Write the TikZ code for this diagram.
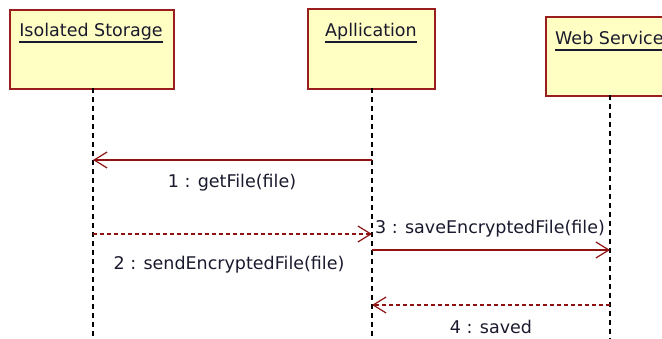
\documentclass[tikz,border=0pt]{standalone}
\usepackage{fontspec}
\setmainfont{DejaVu Sans}
\usetikzlibrary{arrows.meta}
\definecolor{boxfill}{HTML}{FFFFC4}
\definecolor{boxline}{HTML}{9A1E1E}
\definecolor{msgcol}{HTML}{8E1212}
\definecolor{txtcol}{HTML}{1A1A2E}
\begin{document}
\begin{tikzpicture}[x=1pt,y=-1pt,
  objbox/.style={draw=boxline,fill=boxfill,line width=1.6pt,rectangle,anchor=north west,inner sep=0pt},
  objtitle/.style={font=\fontsize{17.5}{20}\selectfont,text=txtcol,anchor=base,inner sep=0pt},
  titleline/.style={draw=txtcol,line width=1.3pt},
  lifeline/.style={draw=black,line width=1.1pt,dash pattern=on 5pt off 4pt},
  msgline/.style={draw=msgcol,line width=1.3pt,-{Straight Barb[length=13pt,width=16pt,line width=1.2pt]}},
  msgdash/.style={msgline,dash pattern=on 4pt off 3pt},
  msglabel/.style={font=\fontsize{17.5}{20}\selectfont,text=txtcol,inner sep=0pt}]
\clip (0,0) rectangle (662,339);
\useasboundingbox (0,0) rectangle (662,339);
% objects
\node[objbox,minimum width=164pt,minimum height=79pt] (s) at (9,9) {};
\node[objbox,minimum width=127pt,minimum height=80pt] (a) at (307,8) {};
\node[objbox,minimum width=130pt,minimum height=79pt] (w) at (545,16) {};
\node[objtitle] (st) at (91,37) {Isolated Storage};
\node[objtitle] (at) at (371,37) {Apllication};
\node[objtitle,anchor=base west] (wt) at (555,45) {Web Service};
\draw[titleline] ([yshift=-5pt]st.base west) -- ([yshift=-5pt]st.base east);
\draw[titleline] ([yshift=-5pt]at.base west) -- ([yshift=-5pt]at.base east);
\draw[titleline] ([yshift=-5pt]wt.base west) -- ([yshift=-5pt]wt.base east);
% lifelines
\coordinate (se) at (93,339);
\coordinate (ae) at (372,339);
\coordinate (we) at (610,339);
\draw[lifeline] (93,88) -- (se);
\draw[lifeline] (372,88) -- (ae);
\draw[lifeline] (610,95) -- (we);
% message points
\coordinate (m1a) at (372,160); \coordinate (m1s) at (93,160);
\coordinate (m2s) at (93,234); \coordinate (m2a) at (372,234);
\coordinate (m3a) at (372,250); \coordinate (m3w) at (610,250);
\coordinate (m4w) at (610,305); \coordinate (m4a) at (372,305);
\draw[msgline] (m1a) -- (m1s);
\draw[msgdash] (m2s) -- (m2a);
\draw[msgline] (m3a) -- (m3w);
\draw[msgdash] (m4w) -- (m4a);
% labels
\node[msglabel] (l1) at (232,183) {1 : getFile(file)};
\node[msglabel] (l2) at (229,265) {2 : sendEncryptedFile(file)};
\node[msglabel] (l3) at (490,229) {3 : saveEncryptedFile(file)};
\node[msglabel] (l4) at (491,327) {4 : saved};
\end{tikzpicture}
\end{document}
